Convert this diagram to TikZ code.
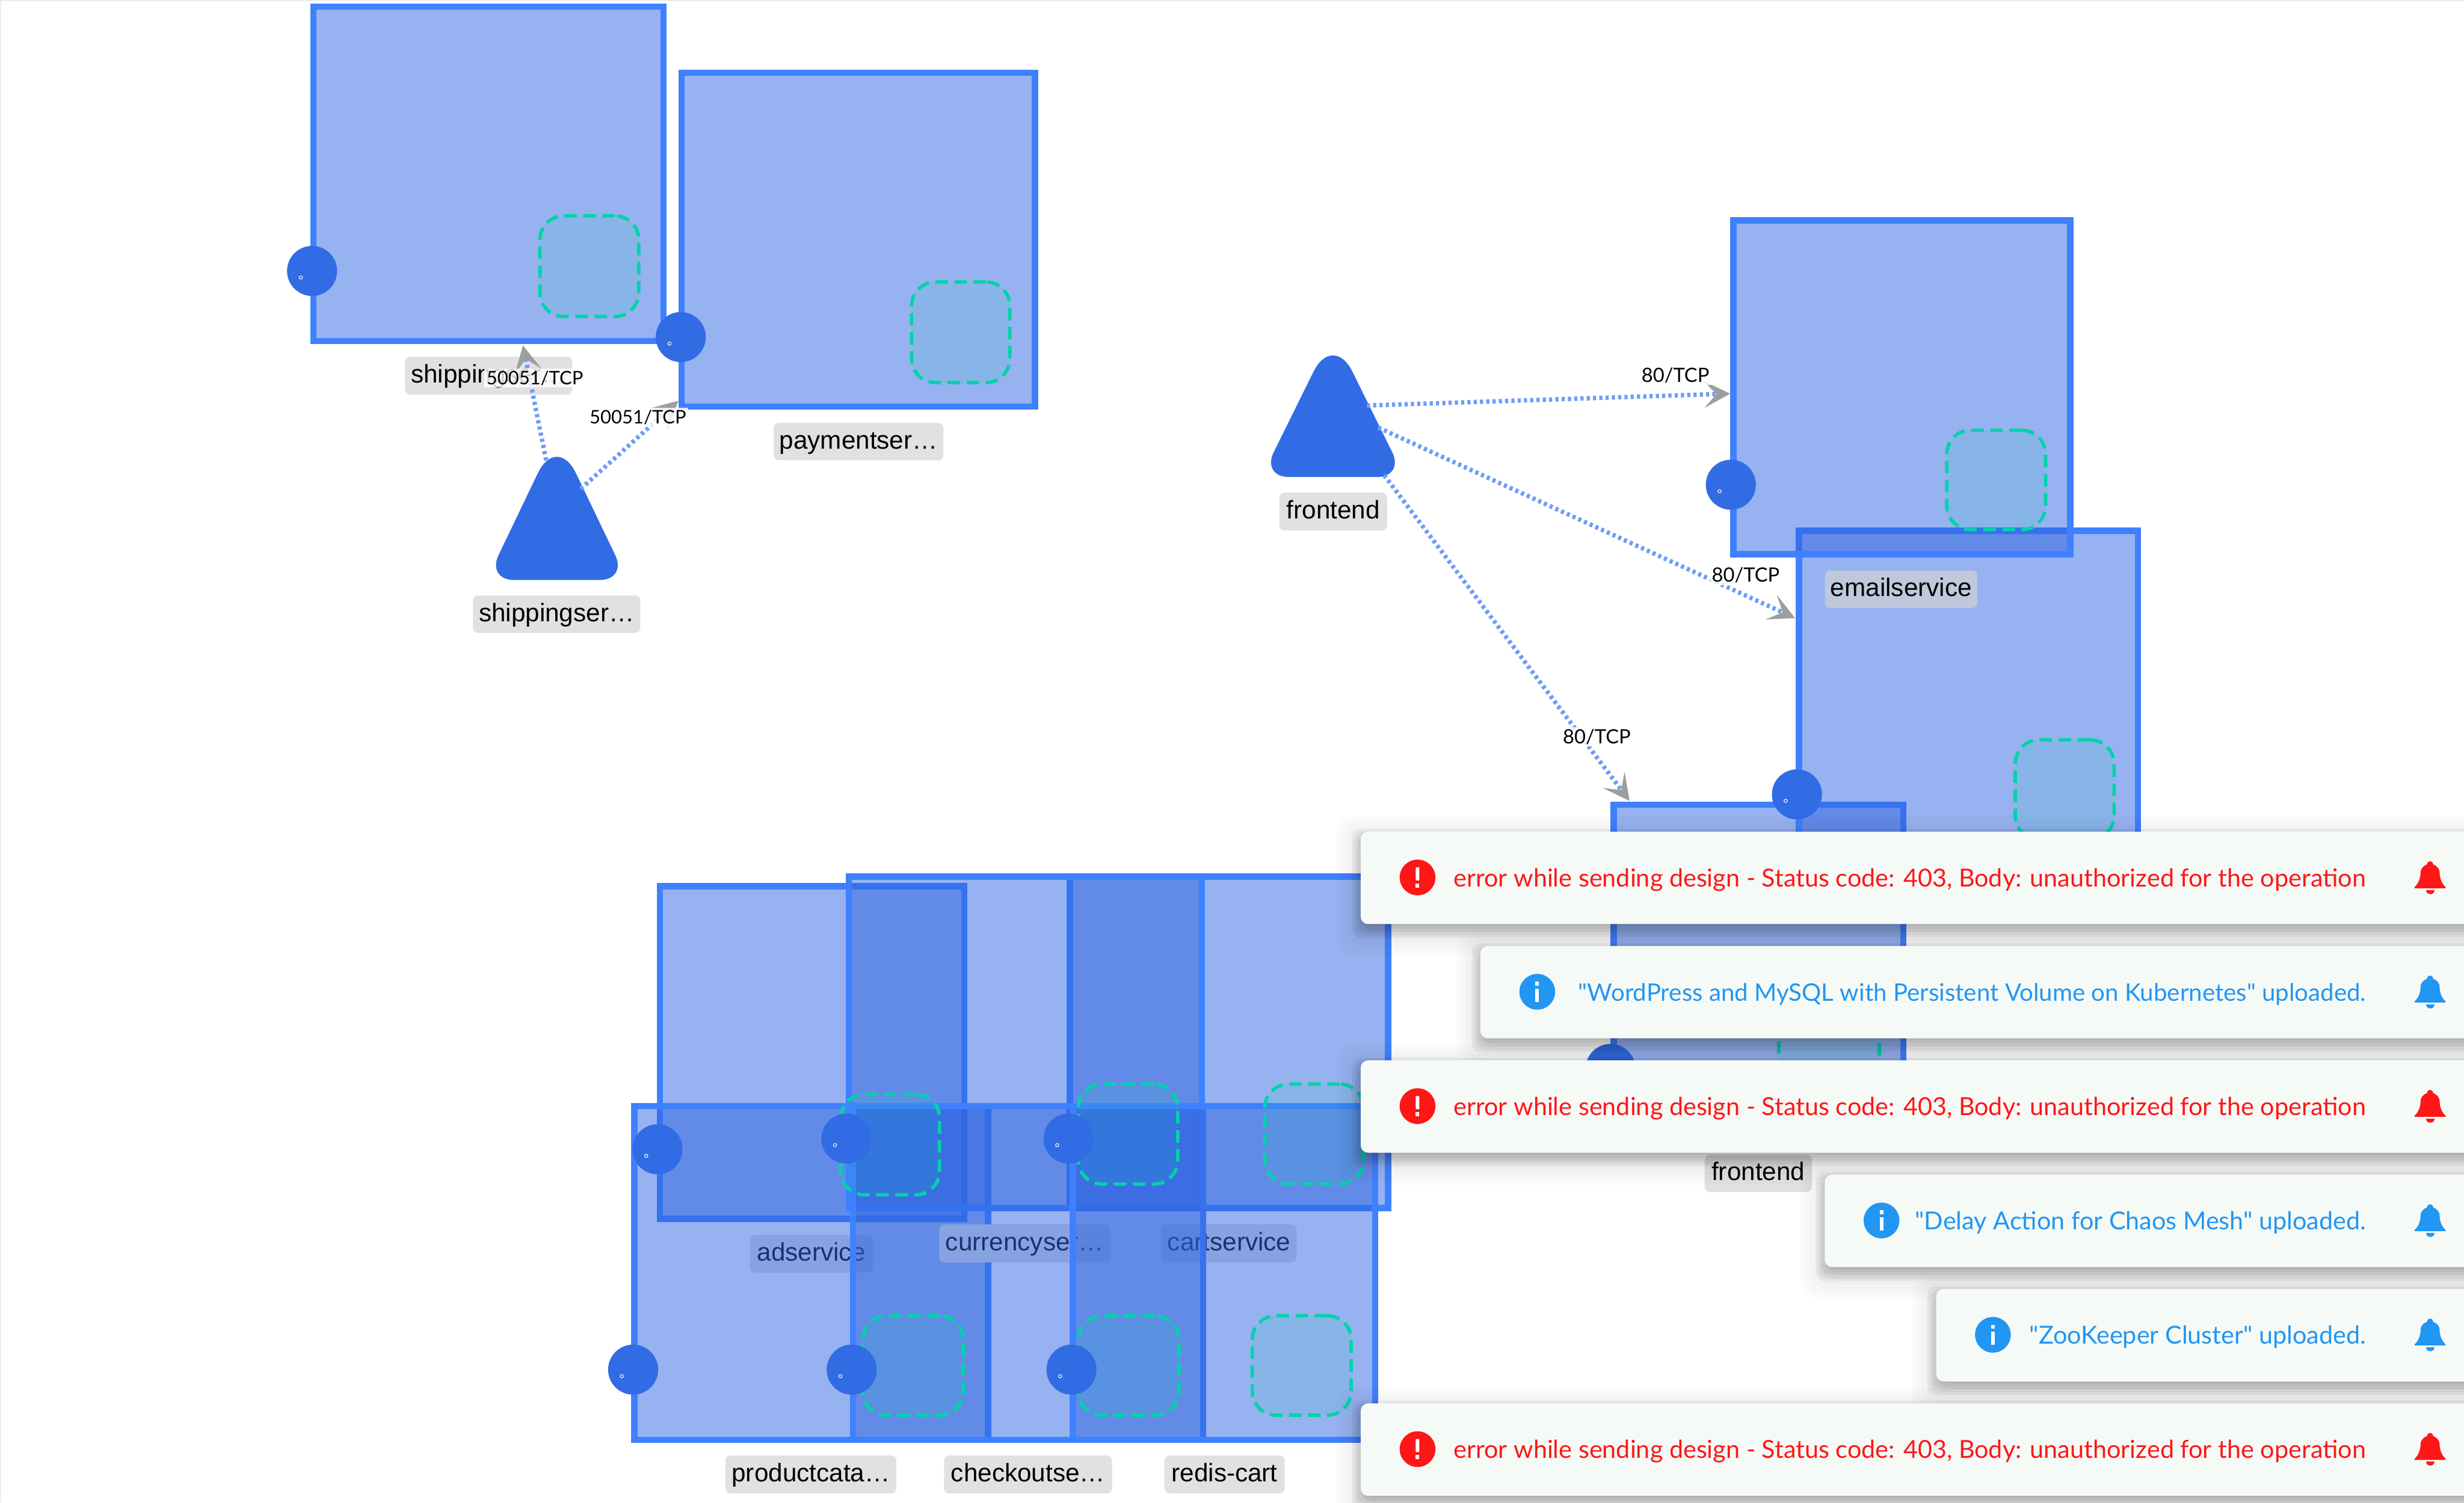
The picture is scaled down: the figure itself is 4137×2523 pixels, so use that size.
\documentclass[tikz,border=0pt]{standalone}
\usepackage{fontspec}
\setmainfont{Liberation Sans}
\newfontfamily\thinfont{Lato}
\usetikzlibrary{arrows.meta}
\definecolor{edgeblue}{HTML}{3F80FF}
\definecolor{svcfill}{HTML}{2F65E1}
\definecolor{portblue}{HTML}{316CE4}
\definecolor{teal}{HTML}{00D3A9}
\definecolor{labelgrey}{HTML}{E0E1E0}
\definecolor{labelover}{HTML}{BFC9DC}
\definecolor{linkblue}{HTML}{6E9CF8}
\definecolor{tipgrey}{HTML}{9E9E9E}
\definecolor{notebg}{HTML}{F6FAF7}
\definecolor{errred}{HTML}{FF1616}
\definecolor{infoblue}{HTML}{2196F3}
\definecolor{pageline}{HTML}{E8EEF2}
\tikzset{
  svcbox/.style={draw=edgeblue,line width=3pt,fill=svcfill,fill opacity=.5,draw opacity=1,inner sep=0pt,outer sep=0pt},
  innerbox/.style={draw=teal,line width=1.6pt,fill=teal,fill opacity=.1,draw opacity=1,rounded corners=.4cm,dash pattern=on 6pt off 3.1pt,inner sep=0pt,outer sep=0pt},
  portdot/.style={circle,fill=portblue,minimum size=.84cm,inner sep=0pt,outer sep=0pt},
  pinhole/.style={circle,draw=white,line width=.3pt,fill=portblue,minimum size=.055cm,inner sep=0pt},
  namelabel/.style={fill=labelgrey,rounded corners=.09cm,inner sep=0pt,outer sep=0pt,text=black,text height=.32cm,text depth=.08cm,font=\fontsize{12.14pt}{14pt}\selectfont},
  link/.style={draw=linkblue,line width=2.1pt,dash pattern=on 1.5pt off 1.5pt,
     -{Stealth[length=.44cm,width=.45cm,inset=.21cm,color=tipgrey]}},
  linklabel/.style={fill=white,fill opacity=.82,text opacity=1,text=black,inner sep=1pt,font=\thinfont\fontsize{9.4pt}{10pt}\selectfont},
  portlabel/.style={linklabel,font=\thinfont\fontsize{8.9pt}{10pt}\selectfont},
  notecard/.style={fill=notebg,rounded corners=.12cm},
  notetext/.style={anchor=base east,inner sep=0pt,font=\thinfont\fontsize{11.87pt}{14pt}\selectfont},
}
\newcommand\svcbox[5]{%
  \pgfmathsetmacro\bw{(#4-#2-10.5)*.01}\pgfmathsetmacro\bh{(#5-#3-10.5)*.01}%
  \node[svcbox,minimum width=\bw cm,minimum height=\bh cm] (#1) at ({(#2+#4)/2},{(#3+#5)/2}) {};}
\newcommand\svcinner[5]{%
  \pgfmathsetmacro\bw{(#4-#2-5)*.01}\pgfmathsetmacro\bh{(#5-#3-5)*.01}%
  \node[innerbox,draw,minimum width=\bw cm,minimum height=\bh cm] (#1) at ({(#2+#4)/2},{(#3+#5)/2}) {};}
\newcommand\svcport[3]{%
  \node[portdot] (#1) at (#2,#3) {};
  \node[pinhole] (#1dot) at ({#2-19},{#3+11}) {};}
\newcommand\svclabel[7][labelgrey]{%
  \pgfmathsetmacro\bw{(#5-#3)*.01}\pgfmathsetmacro\bh{(#6-#4)*.01}%
  \node[namelabel,fill=#1,minimum width=\bw cm,minimum height=\bh cm] (#2) at ({(#3+#5)/2},{(#4+#6)/2}) {#7};}
\newcommand\bellicon[3]{%
  \begin{scope}[shift={(#1,#2)}]
    \fill[#3] (-26,16) .. controls (-19,10) and (-16,0) .. (-16,-8)
      .. controls (-16,-16) and (-10,-20) .. (-5,-22)
      .. controls (-5,-29) and (5,-29) .. (5,-22)
      .. controls (10,-20) and (16,-16) .. (16,-8)
      .. controls (16,0) and (19,10) .. (26,16) -- (26,18) -- (-26,18) -- cycle;
    \fill[#3] (-7,21) -- (7,21) .. controls (7,30) and (-7,30) .. (-7,21) -- cycle;
  \end{scope}}
\newcommand\notecardfull[7]{% name, left, top, bottom, colour, kind, text
  \foreach \e in {0,8,16,24,32,40}{
    \fill[black,opacity=.014,rounded corners=.3cm] ({#2-\e},{#3-\e+14}) rectangle ({4300},{#4+\e+14});
  }
  \foreach \e in {-6,-1,4,9,14}{
    \fill[black,opacity=.05,rounded corners=.15cm] ({#2-\e},{#3-\e+10}) rectangle ({4300},{#4+\e+10});
  }
  \node[notecard,minimum width={(4200-#2)*.01cm},minimum height={(#4-#3)*.01cm},inner sep=0pt,anchor=north west] (#1) at (#2,#3) {};
  \pgfmathsetmacro\cy{(#3+#4)/2}
  \node[circle,fill=#5,minimum size=.6cm,inner sep=0pt] (#1icon) at ({#2+96},\cy) {};
  \ifnum#6=1
    \fill[white,rounded corners=.01cm] ({#2+93},{\cy-17}) rectangle ({#2+99},{\cy+5});
    \fill[white] ({#2+93},{\cy+10}) rectangle ({#2+99},{\cy+17});
  \else
    \fill[white] ({#2+93},{\cy-17}) rectangle ({#2+99},{\cy-10});
    \fill[white] ({#2+93},{\cy-5}) rectangle ({#2+99},{\cy+17});
  \fi
  \node[notetext,text=#5] (#1text) at (3973,{\cy+15.5}) {#7};
  \bellicon{4080}{\cy}{#5}
}
\begin{document}
\begin{tikzpicture}[x=.01cm,y=-.01cm]
\useasboundingbox (0,0) rectangle (4137,2523);
\clip (0,0) rectangle (4137,2523);
\draw[pageline,line width=1pt] (0,2523) -- (0,0) -- (4137,0);
% ---- top-left group
\svcbox{shipbox}{521}{6}{1119}{578}
\svclabel{shiplabel}{680}{599}{961}{663}{shippingser…}
\svcbox{paybox}{1139}{117}{1743}{688}
\svclabel{paylabel}{1299}{710}{1584}{773}{paymentser…}
\svcinner{shipinner}{904}{360}{1075}{534}
\svcport{shipport}{524}{455}
\svcinner{payinner}{1528}{471}{1698}{645}
\svcport{payport}{1143}{566}
% shippingservice triangle
\fill[portblue] (935,974) [rounded corners=.46cm] -- (1053,974) [rounded corners=.74cm] -- (935,728) [rounded corners=.46cm] -- (817,974) [sharp corners] -- cycle;
\svclabel{shipsvclabel}{794}{1000}{1075}{1063}{shippingser…}
\coordinate (s1) at (917,773);
\coordinate (s2) at (975,821);
\coordinate (t1) at (878,580);
\coordinate (t2) at (1139,673);
\draw[link] (s1) -- (t1);
\draw[link] (s2) -- (t2);
\node[portlabel] (l1) at (898,635) {50051/TCP};
\node[portlabel] (l2) at (1071,701) {50051/TCP};
% ---- right group
\svcbox{frontbox}{2704}{1346}{3201}{1916}
\svclabel{frontlabel}{2862}{1939}{3042}{2002}{frontend}
\svcbox{bigbox}{3015}{886}{3595}{1456}
\svcbox{mailbox}{2905}{365}{3481}{936}
\svclabel[labelover]{maillabel}{3064}{958}{3320}{1021}{emailservice}
\svcinner{biginner}{3381}{1240}{3552}{1412}
\svcport{bigport}{3017}{1334}
\svcinner{mailinner}{3266}{720}{3437}{892}
\svcport{mailport}{2906}{814}
\svcinner{frontinner}{2984}{1698}{3158}{1872}
\svcport{frontport}{2704}{1795}
% frontend triangle
\fill[portblue] (2238,801) [rounded corners=.46cm] -- (2358,801) [rounded corners=.74cm] -- (2238,558) [rounded corners=.46cm] -- (2118,801) [sharp corners] -- cycle;
\svclabel{fesvclabel}{2148}{827}{2329}{891}{frontend}
\coordinate (f1) at (2295,681);
\coordinate (f2) at (2314,718);
\coordinate (f3) at (2324,798);
\coordinate (u1) at (2905,661);
\coordinate (u2) at (3014,1038);
\coordinate (u3) at (2736,1345);
\draw[link] (f1) -- (u1);
\draw[link] (f2) -- (u2);
\draw[link] (f3) -- (u3);
\node[linklabel] (l3) at (2813,630) {80/TCP};
\node[linklabel] (l4) at (2931,966) {80/TCP};
\node[linklabel] (l5) at (2681,1237) {80/TCP};
% ---- bottom group, boxes and their labels in stacking order
\svcbox{adbox}{1103}{1483}{1624}{2052}
\svclabel{adlabel}{1259}{2074}{1466}{2137}{adservice}
\svcbox{cartbox}{1791}{1467}{2336}{2034}
\svclabel{cartlabel}{1950}{2056}{2177}{2120}{cartservice}
\svcbox{prodbox}{1060}{1852}{1664}{2423}
\svclabel{prodlabel}{1218}{2444}{1505}{2508}{productcata…}
\svcbox{curbox}{1420}{1467}{2023}{2034}
\svclabel{curlabel}{1577}{2056}{1864}{2120}{currencyser…}
\svcbox{checkbox}{1427}{1852}{2025}{2423}
\svclabel{checklabel}{1585}{2444}{1867}{2508}{checkoutse…}
\svcbox{redisbox}{1796}{1852}{2314}{2423}
\svclabel{redislabel}{1955}{2444}{2157}{2508}{redis-cart}
% inner areas and ports lie above all boxes
\svcinner{adinner}{1409}{1835}{1580}{2009}
\svcinner{curinner}{1808}{1818}{1980}{1991}
\svcinner{cartinner}{2121}{1818}{2292}{1991}
\svcinner{prodinner}{1446}{2207}{1620}{2379}
\svcinner{checkinner}{1808}{2207}{1982}{2379}
\svcinner{redisinner}{2100}{2207}{2271}{2379}
\svcport{adport}{1104}{1930}
\svcport{curport}{1421}{1912}
\svcport{cartport}{1794}{1912}
\svcport{prodport}{1063}{2300}
\svcport{checkport}{1430}{2300}
\svcport{redisport}{1799}{2300}
% ---- notifications
\notecardfull{n1}{2284}{1396}{1551}{errred}{1}{error while sending design - Status code: 403, Body: unauthorized for the operation}
\notecardfull{n2}{2485}{1588}{1743}{infoblue}{0}{\fontsize{11.55pt}{14pt}\selectfont "WordPress and MySQL with Persistent Volume on Kubernetes" uploaded.}
\notecardfull{n3}{2284}{1780}{1935}{errred}{1}{error while sending design - Status code: 403, Body: unauthorized for the operation}
\notecardfull{n4}{3063}{1972}{2127}{infoblue}{0}{"Delay Action for Chaos Mesh" uploaded.}
\notecardfull{n5}{3250}{2164}{2319}{infoblue}{0}{"ZooKeeper Cluster" uploaded.}
\notecardfull{n6}{2284}{2356}{2511}{errred}{1}{error while sending design - Status code: 403, Body: unauthorized for the operation}
\end{tikzpicture}
\end{document}
